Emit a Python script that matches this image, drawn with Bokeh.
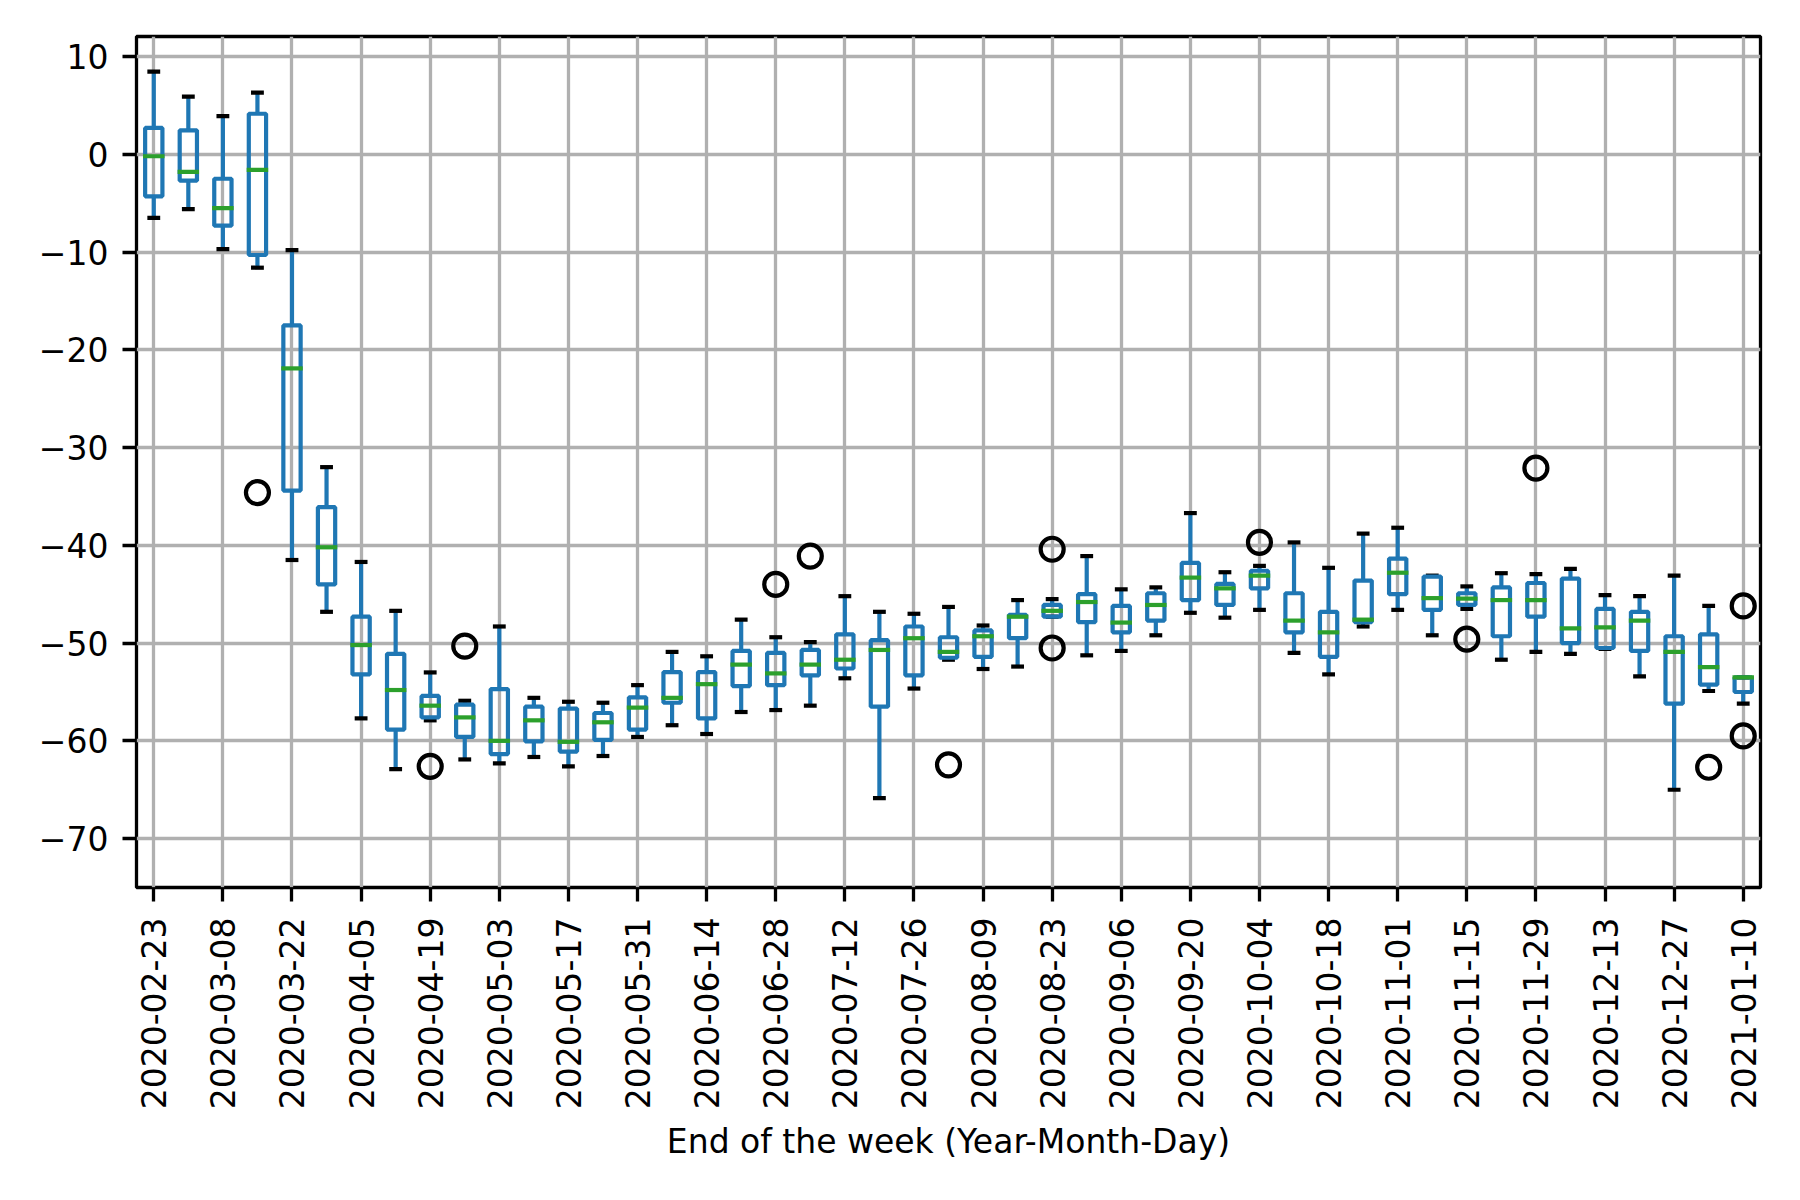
from bokeh.plotting import figure
from bokeh.models import Range1d, FixedTicker, ColumnDataSource
from bokeh.embed import file_html
from bokeh.resources import INLINE

# ---- data ----
weeks = [
    "2020-02-23", "2020-03-01", "2020-03-08", "2020-03-15", "2020-03-22", "2020-03-29",
    "2020-04-05", "2020-04-12", "2020-04-19", "2020-04-26", "2020-05-03", "2020-05-10",
    "2020-05-17", "2020-05-24", "2020-05-31", "2020-06-07", "2020-06-14", "2020-06-21",
    "2020-06-28", "2020-07-05", "2020-07-12", "2020-07-19", "2020-07-26", "2020-08-02",
    "2020-08-09", "2020-08-16", "2020-08-23", "2020-08-30", "2020-09-06", "2020-09-13",
    "2020-09-20", "2020-09-27", "2020-10-04", "2020-10-11", "2020-10-18", "2020-10-25",
    "2020-11-01", "2020-11-08", "2020-11-15", "2020-11-22", "2020-11-29", "2020-12-06",
    "2020-12-13", "2020-12-20", "2020-12-27", "2021-01-03", "2021-01-10",
]
whisker_low = [
    -6.5, -5.6, -9.7, -11.6, -41.5, -46.8, -57.7, -62.9, -57.9, -61.9, -62.3, -61.65,
    -62.6, -61.55, -59.6, -58.4, -59.3, -57.05, -56.85, -56.4, -53.6, -65.85, -54.65, -51.7,
    -52.65, -52.4, -47.3, -51.25, -50.8, -49.2, -46.9, -47.4, -46.6, -51.0, -53.2, -48.3,
    -46.6, -49.2, -46.5, -51.7, -50.9, -51.1, -50.6, -53.4, -65.0, -54.9, -56.2,
]
q1 = [
    -4.3, -2.7, -7.3, -10.3, -34.4, -44.0, -53.2, -58.85, -57.6, -59.6, -61.35, -60.05,
    -61.1, -59.9, -58.85, -56.1, -57.7, -54.4, -54.3, -53.3, -52.6, -56.5, -53.3, -51.5,
    -51.4, -49.5, -47.3, -47.85, -48.9, -47.7, -45.6, -46.1, -44.4, -48.9, -51.4, -47.85,
    -45.0, -46.6, -46.1, -49.3, -47.3, -50.0, -50.5, -50.8, -56.2, -54.25, -55.0,
]
median = [
    -0.2, -1.8, -5.5, -1.6, -21.9, -40.2, -50.2, -54.8, -56.4, -57.6, -60.0, -57.9,
    -60.1, -58.1, -56.6, -55.6, -54.2, -52.2, -53.1, -52.2, -51.7, -50.7, -49.5, -50.9,
    -49.3, -47.3, -46.7, -45.8, -47.9, -46.1, -43.3, -44.4, -43.1, -47.7, -48.9, -47.6,
    -42.8, -45.4, -45.45, -45.6, -45.6, -48.5, -48.4, -47.7, -50.9, -52.45, -53.5,
]
q3 = [
    2.7, 2.45, -2.5, 4.15, -17.5, -36.1, -47.3, -51.1, -55.4, -56.3, -54.7, -56.5,
    -56.7, -57.15, -55.55, -52.96, -52.96, -50.8, -51.0, -50.7, -49.1, -49.7, -48.3, -49.4,
    -48.7, -47.1, -46.1, -45.0, -46.2, -44.9, -41.8, -43.95, -42.6, -44.9, -46.8, -43.6,
    -41.35, -43.2, -44.9, -44.3, -43.85, -43.4, -46.5, -46.8, -49.3, -49.1, -53.5,
]
whisker_high = [
    8.45, 5.9, 3.9, 6.3, -9.8, -32.0, -41.7, -46.7, -53.0, -55.9, -48.3, -55.6,
    -56.0, -56.1, -54.3, -50.9, -51.35, -47.6, -49.4, -49.9, -45.2, -46.8, -47.0, -46.3,
    -48.2, -45.6, -45.5, -41.1, -44.5, -44.3, -36.7, -42.75, -42.1, -39.7, -42.3, -38.8,
    -38.2, -43.1, -44.2, -42.85, -42.95, -42.4, -45.1, -45.2, -43.1, -46.2, -53.5,
]
outlier_weeks = [
    "2020-03-15", "2020-04-19", "2020-04-26", "2020-06-28", "2020-07-05", "2020-08-02",
    "2020-08-23", "2020-08-23", "2020-10-04", "2020-11-15", "2020-11-29", "2021-01-03",
    "2021-01-10", "2021-01-10",
]
outlier_values = [
    -34.6, -62.6, -50.3, -44.0, -41.1, -62.45,
    -40.4, -50.5, -39.7, -49.6, -32.1, -62.7,
    -46.2, -59.5,
]
y_ticks = [10, 0, -10, -20, -30, -40, -50, -60, -70]
x_label = "End of the week (Year-Month-Day)"

# ---- derived positions (matplotlib-style: boxes at 1..N) ----
pos = [i + 1 for i in range(len(weeks))]
tick_pos = pos[0::2]
tick_labels = weeks[0::2]
outlier_pos = [weeks.index(w) + 1 for w in outlier_weeks]

BLUE = "#1f77b4"
GREEN = "#2ca02c"
LW = 4.2
HALF = 0.25
CAP = 0.125

src = ColumnDataSource(dict(
    x=pos,
    left=[x - HALF for x in pos],
    right=[x + HALF for x in pos],
    cl=[x - CAP for x in pos],
    cr=[x + CAP for x in pos],
    lo=whisker_low, q1=q1, med=median, q3=q3, hi=whisker_high,
))
fsrc = ColumnDataSource(dict(x=outlier_pos, y=outlier_values))

p = figure(
    width=1784, height=1184,
    x_range=Range1d(0.5, len(weeks) + 0.5), y_range=Range1d(-75, 12.05),
    output_backend="svg", toolbar_location=None,
    min_border_left=136, min_border_right=24, min_border_top=36, min_border_bottom=297,
    background_fill_color="white", border_fill_color="white",
)

# whiskers
p.segment(x0="x", y0="q3", x1="x", y1="hi", source=src, line_color=BLUE, line_width=LW)
p.segment(x0="x", y0="q1", x1="x", y1="lo", source=src, line_color=BLUE, line_width=LW)
# caps
p.segment(x0="cl", y0="hi", x1="cr", y1="hi", source=src, line_color="black",
          line_width=LW, line_cap="square")
p.segment(x0="cl", y0="lo", x1="cr", y1="lo", source=src, line_color="black",
          line_width=LW, line_cap="square")
# boxes
p.quad(left="left", right="right", bottom="q1", top="q3", source=src,
       fill_color=None, line_color=BLUE, line_width=LW)
# medians
p.segment(x0="left", y0="med", x1="right", y1="med", source=src, line_color=GREEN,
          line_width=LW, line_cap="square")
# fliers
p.scatter(x="x", y="y", source=fsrc, marker="circle", size=23, fill_color=None,
          line_color="black", line_width=LW)

# axes
FONT = "DejaVu Sans"
xa = p.xaxis[0]
xa.ticker = FixedTicker(ticks=tick_pos)
xa.major_label_overrides = {t: l for t, l in zip(tick_pos, tick_labels)}
xa.major_label_orientation = 3.141592653589793 / 2
xa.axis_label = x_label
xa.axis_label_text_font_style = "normal"
xa.axis_label_text_font = FONT
xa.axis_label_text_font_size = "33px"
xa.axis_label_text_color = "black"
xa.axis_label_standoff = 10
xa.major_label_standoff = 16

ya = p.yaxis[0]
ya.ticker = FixedTicker(ticks=y_ticks)
ya.major_label_overrides = {t: (str(t).replace("-", "\u2212")) for t in y_ticks}
ya.major_label_standoff = 14

for ax in (xa, ya):
    ax.major_label_text_font = FONT
    ax.major_label_text_font_size = "33px"
    ax.major_label_text_color = "black"
    ax.axis_line_color = None
    ax.major_tick_out = 14
    ax.major_tick_in = 0
    ax.major_tick_line_width = 3.3
    ax.major_tick_line_color = "black"
    ax.minor_tick_line_color = None

p.xgrid.grid_line_color = "#b0b0b0"
p.ygrid.grid_line_color = "#b0b0b0"
p.xgrid.grid_line_width = 3.3
p.ygrid.grid_line_width = 3.3
p.outline_line_color = "black"
p.outline_line_width = 3.3
p.outline_line_alpha = 1.0

open("out.html", "w").write(file_html(p, INLINE))
